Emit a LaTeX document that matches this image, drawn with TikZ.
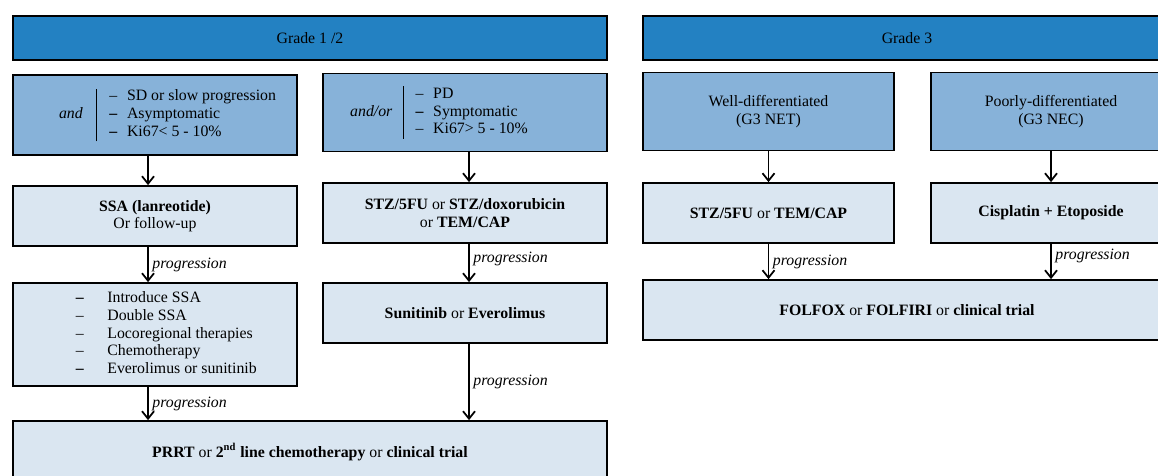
\documentclass[tikz,border=0pt]{standalone}
\usepackage{fontspec}
\setmainfont{Liberation Serif}
\definecolor{HdrBlue}{HTML}{2381C2}
\definecolor{MidBlue}{HTML}{87B2D9}
\definecolor{PaleBlue}{HTML}{DAE6F1}
\usetikzlibrary{arrows.meta, positioning}
\tikzset{
  hdr/.style={draw=black, line width=1pt, fill=HdrBlue, align=center, minimum height=0.88cm, inner sep=2pt, font=\fontsize{9}{10}\selectfont},
  midbox/.style={draw=black, line width=1pt, fill=MidBlue, align=center, minimum height=1.56cm, inner sep=2pt, font=\fontsize{9}{10}\selectfont},
  lightbox/.style={draw=black, line width=1pt, fill=PaleBlue, align=center, minimum height=1.2cm, inner sep=2pt, font=\fontsize{9}{10}\selectfont},
  arrow/.style={-{Straight Barb[length=1.5mm, width=2.4mm]}, line width=1pt, draw=black},
  prog/.style={right, inner sep=2pt, font=\fontsize{9}{10}\selectfont\itshape}
}
\newcommand{\dashitem}[2][10pt]{\makebox[#1][l]{--}#2}
\newcommand{\bolditem}[2][10pt]{\makebox[#1][l]{\textbf{--}}#2}

\begin{document}
\begin{tikzpicture}
\useasboundingbox (0,0) rectangle (23.16,-9.5);
\clip (0,0) rectangle (23.16,-9.5);
\node[hdr, minimum width=11.88cm] (gradeA) at (6.20,-0.76) {Grade 1 /2};
\node[hdr, minimum width=10.56cm] (gradeB) at (18.14,-0.76) {Grade 3};

\node[midbox, minimum width=5.68cm, minimum height=1.6cm] (critA) at (3.10,-2.30) {%
  \hspace{0.5cm}\begin{tabular}{@{}c@{\hspace{8pt}}|@{\hspace{7pt}}l@{}}
   & \dashitem{SD or slow progression}\\
  \textit{and} & \bolditem{Asymptomatic}\\
   & \bolditem{Ki67< 5 - 10\%}
  \end{tabular}};
\node[midbox, minimum width=5.68cm] (critB) at (9.30,-2.25) {%
  \begin{tabular}{@{}c@{\hspace{6pt}}|@{\hspace{7pt}}l@{}}
   & \dashitem{PD}\\
  \textit{and/or} & \bolditem{Symptomatic}\\
   & \dashitem{Ki67> 5 - 10\%}
  \end{tabular}\hspace{1.04cm}};
\node[midbox, minimum width=5.02cm] (wellD) at (15.37,-2.23) {Well-differentiated\\(G3 NET)};
\node[midbox, minimum width=4.80cm] (poorD) at (21.02,-2.23) {Poorly-differentiated\\(G3 NEC)};

\node[lightbox, minimum width=5.68cm] (ssa) at (3.10,-4.32) {\textbf{SSA (lanreotide)}\\Or follow-up};
\node[lightbox, minimum width=5.68cm] (stz) at (9.30,-4.26) {\textbf{STZ/5FU} or \textbf{STZ/doxorubicin}\\or \textbf{TEM/CAP}};
\node[lightbox, minimum width=5.02cm] (stzB) at (15.37,-4.26) {\textbf{STZ/5FU} or \textbf{TEM/CAP}};
\node[lightbox, minimum width=4.80cm] (cis) at (21.02,-4.26) {\textbf{Cisplatin + Etoposide}};

\node[lightbox, minimum width=5.68cm, minimum height=2.06cm] (opts) at (3.10,-6.69) {%
  \hspace{0.45cm}\begin{tabular}{@{}l@{}}
  \bolditem[18pt]{Introduce SSA}\\
  \dashitem[18pt]{Double SSA}\\
  \dashitem[18pt]{Locoregional therapies}\\
  \dashitem[18pt]{Chemotherapy}\\
  \bolditem[18pt]{Everolimus or sunitinib}
  \end{tabular}};
\node[lightbox, minimum width=5.68cm] (suni) at (9.30,-6.26) {\textbf{Sunitinib} or \textbf{Everolimus}};
\node[lightbox, minimum width=10.56cm] (folfox) at (18.14,-6.20) {\textbf{FOLFOX} or \textbf{FOLFIRI} or \textbf{clinical trial}};

\node[lightbox, minimum width=11.88cm, minimum height=1.24cm] (prrt) at (6.20,-9.04) {\textbf{PRRT} or \textbf{2\textsuperscript{nd} line chemotherapy} or \textbf{clinical trial}};

\draw[arrow] ([xshift=-0.14cm]critA.south) -- ([xshift=-0.14cm]ssa.north);
\draw[arrow] ([xshift=-0.14cm]ssa.south) -- node[prog] {progression} ([xshift=-0.14cm]opts.north);
\draw[arrow] ([xshift=-0.14cm]opts.south) -- node[prog] {progression} ([xshift=-0.14cm]opts.south |- prrt.north);
\draw[arrow] ([xshift=0.08cm]critB.south) -- ([xshift=0.08cm]stz.north);
\draw[arrow] ([xshift=0.08cm]stz.south) -- node[prog, pos=0.4] {progression} ([xshift=0.08cm]suni.north);
\draw[arrow] ([xshift=0.08cm]suni.south) -- node[prog, pos=0.5] {progression} ([xshift=0.08cm]suni.south |- prrt.north);
\draw[arrow] (wellD.south) -- (stzB.north);
\draw[arrow] (poorD.south) -- (cis.north);
\draw[arrow] (stzB.south) -- node[prog] {progression} (stzB.south |- folfox.north);
\draw[arrow] (cis.south) -- node[prog, pos=0.35] {progression} (cis.south |- folfox.north);
\end{tikzpicture}
\end{document}
